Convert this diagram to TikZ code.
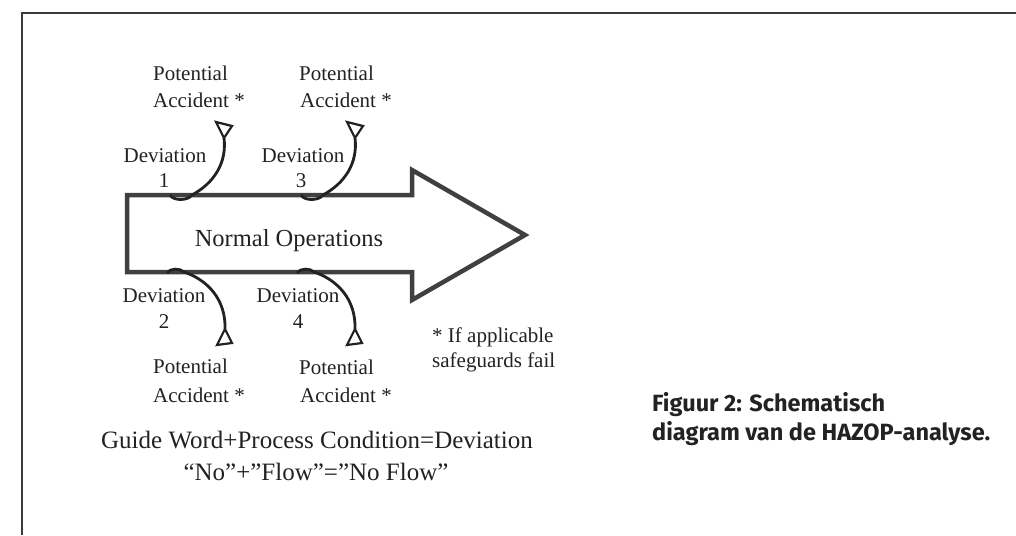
\documentclass[tikz,border=0pt]{standalone}
\usepackage{fontspec}
\setmainfont{Liberation Serif}
\newfontfamily\capfont{Fira Sans}
\definecolor{ink}{HTML}{222222}
\definecolor{frame}{HTML}{3A3A3A}
\definecolor{body}{HTML}{404040}
\begin{document}
\begin{tikzpicture}[x=1pt,y=-1pt,
  lbl/.style={inner sep=0pt,text=ink,font=\fontsize{21}{25}\selectfont},
  lblw/.style={lbl,anchor=base west},
  lblc/.style={lbl,anchor=base},
  devline/.style={draw=ink,line width=2.8pt},
  devtip/.style={draw=ink,line width=2.2pt,line join=miter,fill=white},
  bigarrow/.style={draw=body,line width=4.5pt,line join=miter},
  framel/.style={draw=frame,line width=2.5pt},
  capt/.style={inner sep=0pt,anchor=base west,text=ink,font=\capfont\bfseries\fontsize{23.5}{28}\selectfont}]
\useasboundingbox (0,0) rectangle (1016,535);
\fill[white] (0,0) rectangle (1016,535);
% frame
\coordinate (fbl) at (22,535);
\coordinate (ftl) at (22,13);
\coordinate (ftr) at (1016,13);
\draw[framel] (fbl) -- (ftl) -- (ftr);
% big arrow
\draw[bigarrow] (127,195) coordinate (a1) -- (412,195) coordinate (a2) -- (412,170) coordinate (a3)
  -- (525,235) coordinate (tip) -- (412,300) coordinate (a5) -- (412,272) coordinate (a6)
  -- (127,272) coordinate (a7) -- cycle;
\node[lbl,anchor=base,font=\fontsize{24.5}{28}\selectfont] (normal) at (289,246) {Normal Operations};
% texts top
\node[lblw] (pa1a) at (153,81) {Potential};
\node[lblw] (pa1b) at (153,107) {Accident *};
\node[lblw] (pa3a) at (299,81) {Potential};
\node[lblw] (pa3b) at (300,107) {Accident *};
\node[lblc] (dev1a) at (165,162) {Deviation};
\node[lblc] (dev1b) at (164,187) {1};
\node[lblc] (dev3a) at (303,162) {Deviation};
\node[lblc] (dev3b) at (301,187) {3};
% texts bottom
\node[lblc] (dev2a) at (164,302) {Deviation};
\node[lblc] (dev2b) at (164,328) {2};
\node[lblc] (dev4a) at (298,302) {Deviation};
\node[lblc] (dev4b) at (298,328) {4};
\node[lblw] (pa2a) at (153,373) {Potential};
\node[lblw] (pa2b) at (153,402) {Accident *};
\node[lblw] (pa4a) at (299,374) {Potential};
\node[lblw] (pa4b) at (300,402) {Accident *};
\node[lblw] (note1) at (432,342) {* If applicable};
\node[lblw] (note2) at (432,367) {safeguards fail};
\node[lbl,anchor=base,font=\fontsize{25}{29}\selectfont] (guide) at (317,448) {Guide Word+Process Condition=Deviation};
\node[lbl,anchor=base,font=\fontsize{25}{29}\selectfont] (noflow) at (316,480) {“No”+”Flow”=”No Flow”};
% caption
\node[capt] (cap1) at (652,411) {Figuur 2: Schematisch};
\node[capt] (cap2) at (652,440) {diagram van de HAZOP-analyse.};
% deviation connectors: start on the arrow body, end at the open triangle
\coordinate (d1s) at (170,195); \coordinate (d1e) at (224,138);
\coordinate (d3s) at (301,195); \coordinate (d3e) at (355,138);
\coordinate (d2s) at (167,273); \coordinate (d2e) at (225,329);
\coordinate (d4s) at (297,273); \coordinate (d4e) at (355,329);
\draw[devline] (d1s) .. controls +(3,6) and +(-4,6) .. ++(22,0)
  .. controls +(22,-12) and +(3,25) .. (d1e);
\draw[devline] (d3s) .. controls +(3,6) and +(-4,6) .. ++(22,0)
  .. controls +(22,-12) and +(3,25) .. (d3e);
\draw[devline] (d2s) .. controls +(3,-5) and +(-4,-4) .. ++(17,-1)
  .. controls +(24,8) and +(1,-29) .. (d2e);
\draw[devline] (d4s) .. controls +(3,-5) and +(-4,-4) .. ++(17,-1)
  .. controls +(24,8) and +(1,-29) .. (d4e);
% open triangle heads
\draw[devtip] (d1e) -- ++(-8,-16) -- ++(16,4) -- cycle;
\draw[devtip] (d3e) -- ++(-8,-16) -- ++(16,4) -- cycle;
\draw[devtip] (d2e) -- ++(-8,16) -- ++(15,-2) -- cycle;
\draw[devtip] (d4e) -- ++(-8,16) -- ++(15,-2) -- cycle;
\end{tikzpicture}
\end{document}
